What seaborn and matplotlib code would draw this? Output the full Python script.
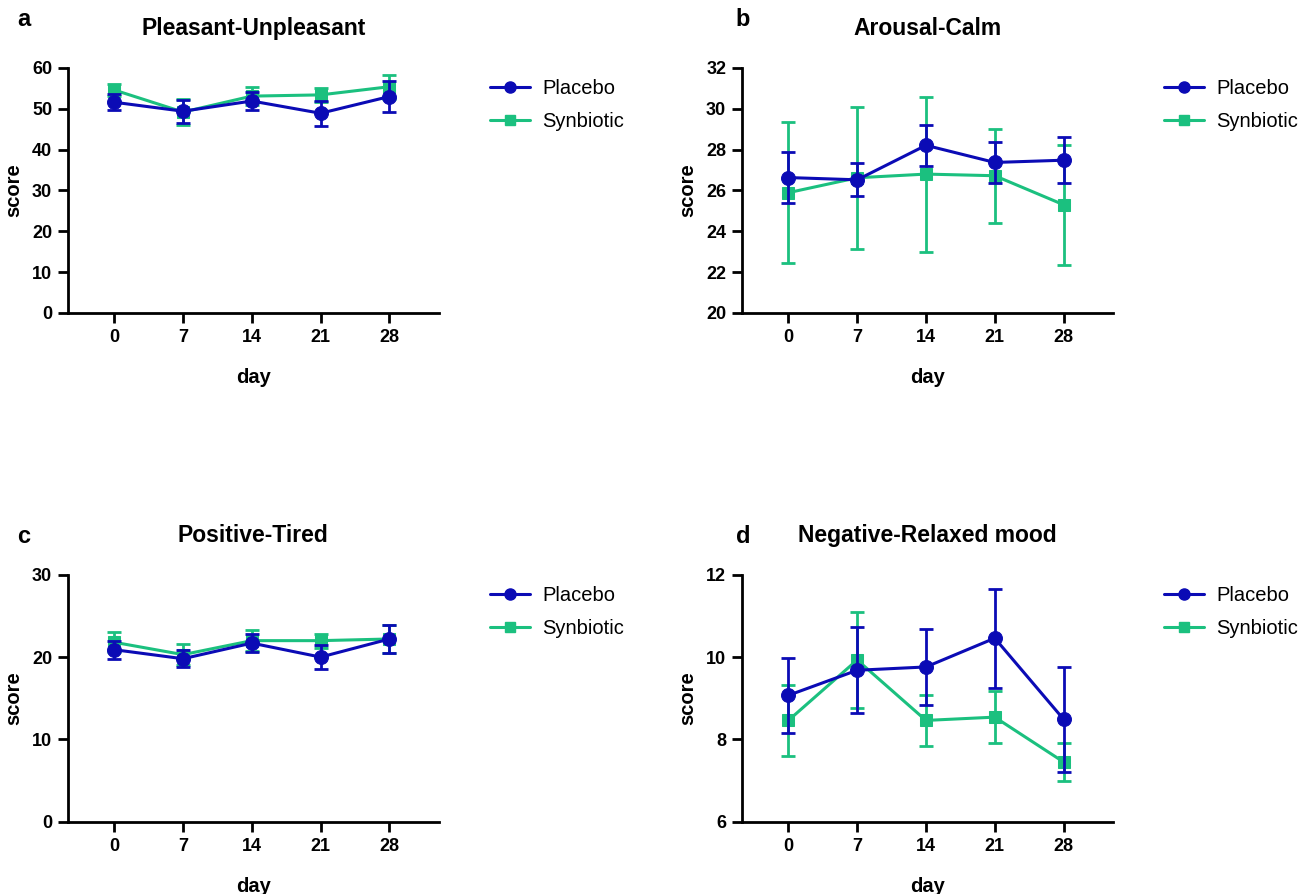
import numpy as np
import pandas as pd
import seaborn as sns
import matplotlib.pyplot as plt
from matplotlib.lines import Line2D

#%% data (mean and error per day)
days = [0, 7, 14, 21, 28]
groups = ['Placebo', 'Synbiotic']
titles = ['Pleasant-Unpleasant', 'Arousal-Calm', 'Positive-Tired', 'Negative-Relaxed mood']
letters = ['a', 'b', 'c', 'd']

placebo_mean = [
    [51.6, 49.4, 51.9, 48.9, 53.0],
    [26.63, 26.52, 28.21, 27.37, 27.48],
    [20.9, 19.8, 21.7, 20.0, 22.2],
    [9.07, 9.68, 9.76, 10.46, 8.49],
]
placebo_err = [
    [2.0, 2.8, 2.3, 3.1, 3.7],
    [1.24, 0.80, 1.00, 1.02, 1.14],
    [1.08, 1.05, 1.1, 1.5, 1.7],
    [0.91, 1.05, 0.92, 1.2, 1.28],
]
synbiotic_mean = [
    [54.6, 49.2, 53.1, 53.4, 55.4],
    [25.89, 26.62, 26.80, 26.72, 25.30],
    [21.8, 20.3, 22.0, 22.0, 22.2],
    [8.46, 9.93, 8.46, 8.54, 7.45],
]
synbiotic_err = [
    [1.5, 3.2, 2.2, 1.7, 2.9],
    [3.45, 3.47, 3.80, 2.30, 2.94],
    [1.2, 1.3, 1.25, 0.85, 1.75],
    [0.87, 1.17, 0.63, 0.64, 0.47],
]

y_limits = [(0, 60), (20, 32), (0, 30), (6, 12)]
y_ticks = [np.arange(0, 61, 10), np.arange(20, 33, 2), np.arange(0, 31, 10), np.arange(6, 13, 2)]

#%% style
sns.set_theme(style='white')
plt.rcParams['font.family'] = ['Liberation Sans', 'DejaVu Sans']
plt.rcParams['text.color'] = 'black'
plt.rcParams['axes.labelcolor'] = 'black'
plt.rcParams['xtick.color'] = 'black'
plt.rcParams['ytick.color'] = 'black'

colors = {'Placebo': '#0B0BB5', 'Synbiotic': '#1BC07F'}
markers = {'Placebo': 'o', 'Synbiotic': 's'}
msize = {'Placebo': 10, 'Synbiotic': 8.5}

fig = plt.figure(figsize=(13.09, 8.94), dpi=100)
positions = [
    [0.052, 0.650, 0.283, 0.274],
    [0.567, 0.650, 0.283, 0.274],
    [0.052, 0.081, 0.283, 0.276],
    [0.567, 0.081, 0.283, 0.276],
]
letter_xy = [(0.013, 0.978), (0.562, 0.978), (0.013, 0.400), (0.562, 0.400)]

for i in range(4):
    ax = fig.add_axes(positions[i])
    df = pd.DataFrame({
        'day': days * 2,
        'score': placebo_mean[i] + synbiotic_mean[i],
        'err': placebo_err[i] + synbiotic_err[i],
        'group': ['Placebo'] * 5 + ['Synbiotic'] * 5,
    })
    # synbiotic drawn first, placebo on top
    for z, g in enumerate(['Synbiotic', 'Placebo']):
        sub = df[df['group'] == g]
        ax.errorbar(sub['day'], sub['score'], yerr=sub['err'], fmt='none',
                    ecolor=colors[g], elinewidth=2, capsize=5, capthick=2, zorder=2 + 2 * z)
        sns.lineplot(data=sub, x='day', y='score', color=colors[g], marker=markers[g],
                     markersize=msize[g], markeredgecolor=colors[g], linewidth=2.2,
                     ax=ax, zorder=3 + 2 * z, legend=False)

    ax.set_xlim(-4.7, 33)
    ax.set_ylim(*y_limits[i])
    ax.set_xticks(days)
    ax.set_yticks(y_ticks[i])
    ax.set_xticklabels([str(d) for d in days], fontsize=13, fontweight='bold')
    ax.set_yticklabels([str(int(t)) for t in y_ticks[i]], fontsize=13, fontweight='bold')
    ax.set_xlabel('day', fontsize=14.5, fontweight='bold', labelpad=16)
    ax.set_ylabel('score', fontsize=14.5, fontweight='bold', labelpad=6)
    ax.set_title(titles[i], fontsize=16.5, fontweight='bold', pad=24)

    sns.despine(ax=ax)
    for s in ['left', 'bottom']:
        ax.spines[s].set_linewidth(2)
        ax.spines[s].set_color('black')
    ax.tick_params(axis='both', direction='out', length=7.5, width=2, color='black',
                   left=True, bottom=True, pad=4)
    ax.grid(False)

    handles = [Line2D([0], [0], color=colors[g], marker=markers[g], markersize=msize[g] * 0.8,
                      linewidth=2.2) for g in groups]
    ax.legend(handles, groups, loc='upper left', bbox_to_anchor=(1.09, 1.03), frameon=False,
              fontsize=14.5, handlelength=2.0, handletextpad=0.6, labelspacing=0.7)

    fig.text(letter_xy[i][0], letter_xy[i][1], letters[i], fontsize=17, fontweight='bold',
             va='center')

plt.savefig('out.png', dpi=100)
